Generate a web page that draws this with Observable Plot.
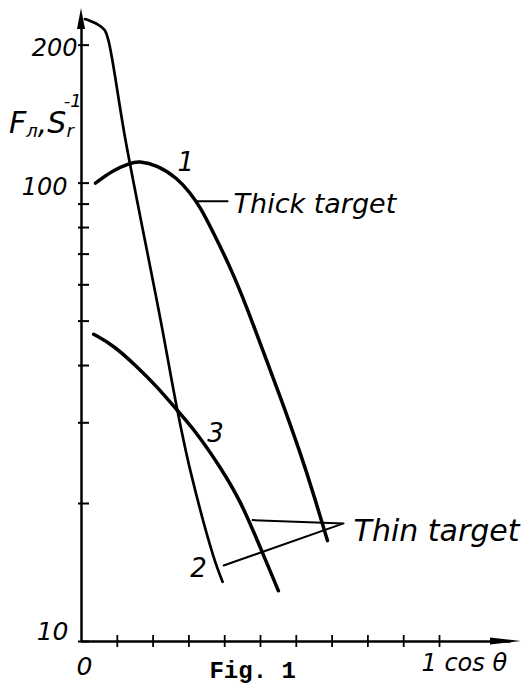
<!DOCTYPE html>
<html><head><meta charset="utf-8">
<script src="https://cdn.jsdelivr.net/npm/d3@7"></script>
<script src="https://cdn.jsdelivr.net/npm/@observablehq/plot@0.6"></script>
<style>body{margin:0;background:#fff}</style>
</head><body><div id="chart"></div>
<script>
// Curve 1 — thick target
const curve1X = [0.039, 0.089, 0.137, 0.159, 0.212, 0.268, 0.304, 0.332, 0.369, 0.416, 0.464, 0.506, 0.556, 0.612, 0.648, 0.687];
const curve1Y = [100, 106.8, 110.6, 111.7, 109.5, 102.5, 95.1, 88.6, 77.8, 65.5, 53.1, 43.2, 34.1, 25.7, 21.0, 16.6];
// Curve 2 — thin target (steep)
const curve2X = [0.010, 0.045, 0.064, 0.075, 0.123, 0.221, 0.268, 0.304, 0.369, 0.394];
const curve2Y = [228, 222, 216, 205, 124.1, 50.2, 31.9, 23.6, 15.3, 13.5];
// Curve 3 — thin target
const curve3X = [0.034, 0.089, 0.156, 0.212, 0.268, 0.324, 0.388, 0.444, 0.500, 0.550];
const curve3Y = [46.8, 44.3, 39.7, 35.9, 31.9, 28.4, 24.0, 20.3, 16.0, 12.9];
// leader lines
const leaderThickX = [0.318, 0.408];
const leaderThickY = [91.3, 91.3];
const leaderThinX = [0.478, 0.732, 0.397];
const leaderThinY = [18.4, 18.1, 14.65];
// ticks
const yTicks = [10, 20, 30, 40, 50, 60, 70, 80, 90, 100, 200];
const xTicks = [0.1, 0.2, 0.3, 0.4, 0.5, 0.6, 0.7, 0.8, 0.9, 1.0];
// curve number labels
const curveLabels = ["1", "3", "2"];
const curveLabelX = [0.291, 0.374, 0.327];
const curveLabelY = [110.6, 28.4, 14.4];

const pts = (xs, ys) => xs.map((x, i) => ({x, y: ys[i]}));
const font = "DejaVu Sans";

const plot = Plot.plot({
  width: 526, height: 692,
  marginLeft: 81, marginRight: 87, marginTop: 10, marginBottom: 51,
  x: {domain: [0, 1]},
  y: {type: "log", domain: [10, 238]},
  style: {background: "white", color: "black", overflow: "visible"},
  marks: [
    Plot.axisY(yTicks, {anchor: "left", tickSize: 11, dx: 8, tickFormat: () => "", label: null, strokeWidth: 2}),
    Plot.axisX(xTicks, {anchor: "bottom", tickSize: 12, dy: -6, tickFormat: () => "", label: null, strokeWidth: 1.8}),
    Plot.ruleX([0], {y1: 10, y2: 228, strokeWidth: 2.5}),
    Plot.ruleY([10], {x1: 0, x2: 1.2, strokeWidth: 2.5}),
    Plot.line(pts(curve1X, curve1Y), {x: "x", y: "y", curve: "basis", strokeWidth: 3.5}),
    Plot.line(pts(curve2X, curve2Y), {x: "x", y: "y", curve: "catmull-rom", strokeWidth: 2.7}),
    Plot.line(pts(curve3X, curve3Y), {x: "x", y: "y", curve: "basis", strokeWidth: 3.5}),
    Plot.line(pts(leaderThickX, leaderThickY), {x: "x", y: "y", strokeWidth: 2}),
    Plot.line(pts(leaderThinX, leaderThinY), {x: "x", y: "y", strokeWidth: 2}),
    Plot.text(curveLabels, {x: (d, i) => curveLabelX[i], y: (d, i) => curveLabelY[i], text: d => d,
      fontFamily: font, fontStyle: "italic", fontSize: 26}),
    Plot.text(["Thick target"], {x: leaderThickX[1], y: leaderThickY[1], text: d => d, textAnchor: "start",
      dx: 6, dy: 3, fontFamily: font, fontStyle: "italic", fontSize: 27}),
    Plot.text(["Thin target"], {x: leaderThinX[1], y: leaderThinY[1], text: d => d, textAnchor: "start",
      dx: 10, dy: 8, fontFamily: font, fontStyle: "italic", fontSize: 30}),
    Plot.text([200], {x: 0, y: d => d, text: d => String(d), textAnchor: "end", dx: -4, dy: 3,
      fontFamily: font, fontStyle: "italic", fontSize: 24}),
    Plot.text([100], {x: 0, y: d => d, text: d => String(d), textAnchor: "end", dx: -14, dy: 4,
      fontFamily: font, fontStyle: "italic", fontSize: 24}),
    Plot.text([10], {x: 0, y: d => d, text: d => String(d), textAnchor: "end", dx: -13, dy: -10,
      fontFamily: font, fontStyle: "italic", fontSize: 25}),
    Plot.text([0], {x: 0, y: 10, text: d => String(d), dx: 3, dy: 25,
      fontFamily: font, fontStyle: "italic", fontSize: 25}),
    Plot.text(["1 cos θ"], {x: 1, y: 10, text: d => d, textAnchor: "start", dx: -18, dy: 22,
      fontFamily: font, fontStyle: "italic", fontSize: 24}),
    Plot.text(["Fig. 1"], {x: 0.478, y: 10, text: d => d, dy: 29,
      fontFamily: "Liberation Mono", fontWeight: "bold", fontSize: 24})
  ]
});
document.getElementById("chart").appendChild(plot);

const sx = plot.scale("x"), sy = plot.scale("y");
const g = d3.select(plot).append("g").attr("text-anchor", "start");
const x0 = sx.apply(0), y0 = sy.apply(10);
g.append("path").attr("d", `M${x0},8 L${x0 - 4},29 L${x0 + 4},29 Z`).attr("fill", "black");
g.append("path").attr("d", `M521,${y0} L490,${y0 - 3.5} L490,${y0 + 3.5} Z`).attr("fill", "black");

const lab = g.append("text").attr("x", 9).attr("y", 133).attr("text-anchor", "start")
  .attr("font-family", font).attr("font-style", "italic").attr("font-size", 30).attr("fill", "black");
lab.append("tspan").text("F");
lab.append("tspan").attr("font-size", 18).attr("dy", 4).text("л");
lab.append("tspan").attr("dy", -4).text(",");
lab.append("tspan").text("S");
lab.append("tspan").attr("font-size", 18).attr("dy", 4).text("r");
lab.append("tspan").attr("font-size", 18).attr("dx", -9).attr("dy", -30).text("-1");
</script></body></html>
